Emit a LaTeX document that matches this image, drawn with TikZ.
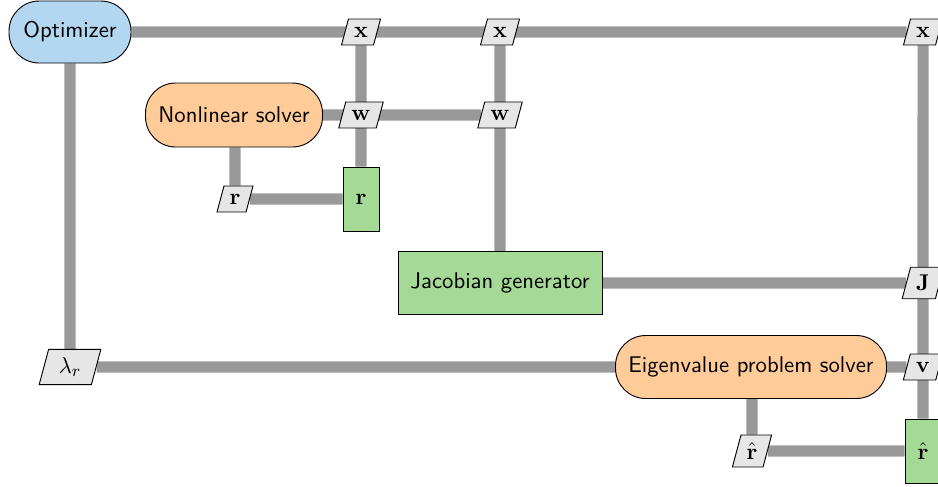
\documentclass[tikz,border=0pt]{standalone}
\usetikzlibrary{shapes.geometric,backgrounds}
\newdimen\pu \pu=0.48pt
\definecolor{optblue}{RGB}{179,215,240}
\definecolor{solvorange}{RGB}{255,204,153}
\definecolor{funcgreen}{RGB}{164,218,150}
\definecolor{datagray}{RGB}{230,230,230}
\definecolor{linegray}{RGB}{153,153,153}
\tikzset{
  every node/.style={font=\fontsize{10.9}{13}\selectfont},
  procnode/.style={rectangle, rounded corners=14.5pt, draw=black, line width=0.45pt, minimum height=30pt, font=\fontsize{10.9}{13}\selectfont\sffamily},
  optnode/.style={procnode, fill=optblue},
  solvnode/.style={procnode, fill=solvorange},
  funcnode/.style={rectangle, draw=black, line width=0.45pt, fill=funcgreen, minimum height=30.5pt, font=\fontsize{10.9}{13}\selectfont\sffamily},
  datanode/.style={trapezium, trapezium left angle=75, trapezium right angle=105, draw=black, line width=0.45pt, fill=datagray, inner xsep=2.7pt, inner ysep=3.8pt},
  conn/.style={draw=linegray, line width=5.3pt},
}
\begin{document}
\begin{tikzpicture}[x=\pu, y=-\pu]
\useasboundingbox (0,0) rectangle (938,486);
\clip (0,0) rectangle (938,486);
% nodes
\node[optnode, minimum width=122\pu, minimum height=62\pu] (opt) at (70,32) {Optimizer};
\node[datanode] (x1) at (361,32) {$\mathbf{x}$};
\node[datanode] (x2) at (500,32) {$\mathbf{x}$};
\node[datanode] (x3) at (923,32) {$\mathbf{x}$};
\node[solvnode, minimum width=177\pu, minimum height=64\pu] (nl) at (234,115) {Nonlinear solver};
\node[datanode] (w1) at (361,115) {$\mathbf{w}$};
\node[datanode] (w2) at (500,115) {$\mathbf{w}$};
\node[datanode] (rd) at (235,199) {$\mathbf{r}$};
\node[funcnode, minimum width=36\pu, minimum height=64\pu] (rbox) at (361,199) {$\mathbf{r}$};
\node[funcnode, minimum width=204\pu, minimum height=63\pu] (jac) at (500,283) {Jacobian generator};
\node[datanode] (J) at (923,283) {$\mathbf{J}$};
\node[datanode, inner xsep=4.8pt] (lam) at (70,367) {$\lambda_r$};
\node[solvnode, minimum width=271\pu, minimum height=63\pu] (eig) at (751,367) {Eigenvalue problem solver};
\node[datanode] (v) at (923,367) {$\mathbf{v}$};
\node[datanode] (rhd) at (752,451) {$\hat{\mathbf{r}}$};
\node[funcnode, minimum width=36\pu, minimum height=64\pu] (rhbox) at (923,451) {$\hat{\mathbf{r}}$};
% connectors
\begin{pgfonlayer}{background}
\draw[conn] (opt) -- (x3);
\draw[conn] (x1) -- (rbox);
\draw[conn] (x2) -- (jac);
\draw[conn] (x3) -- (rhbox);
\draw[conn] (nl) -- (w2);
\draw[conn] (nl.south -| rd) -- (rd);
\draw[conn] (rd) -- (rbox);
\draw[conn] (opt.south -| lam) -- (lam);
\draw[conn] (lam) -- (eig);
\draw[conn] (eig) -- (v);
\draw[conn] (jac) -- (J);
\draw[conn] (eig.south -| rhd) -- (rhd);
\draw[conn] (rhd) -- (rhbox);
\end{pgfonlayer}
\end{tikzpicture}
\end{document}
